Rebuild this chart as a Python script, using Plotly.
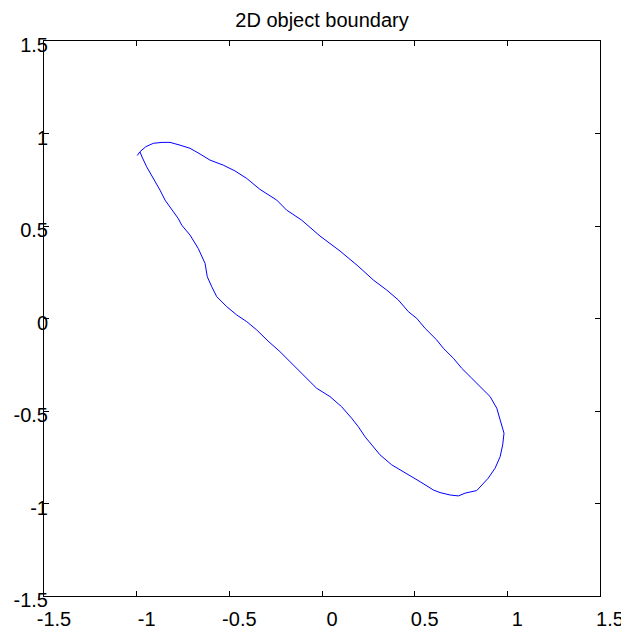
import plotly.graph_objects as go

# Boundary trace (data coordinates)
boundary_x = [-0.997, -0.982, -0.950, -0.910, -0.863, -0.820, -0.766, -0.712, -0.658, -0.604,
              -0.533, -0.470, -0.406, -0.335, -0.244, -0.191, -0.110, -0.011, 0.097, 0.194,
              0.277, 0.349, 0.412, 0.466, 0.511, 0.556, 0.619, 0.655, 0.709, 0.754,
              0.808, 0.862, 0.907, 0.943, 0.961, 0.982, 0.975, 0.961, 0.934, 0.897,
              0.835, 0.772, 0.736, 0.691, 0.637, 0.601, 0.529, 0.466, 0.421, 0.376,
              0.313, 0.268, 0.232, 0.196, 0.160, 0.106, 0.043, -0.029, -0.101, -0.155,
              -0.227, -0.291, -0.352, -0.406, -0.460, -0.514, -0.568, -0.595, -0.619, -0.631,
              -0.668, -0.712, -0.757, -0.776, -0.820, -0.847, -0.874, -0.910, -0.946, -0.971,
              -0.982]
boundary_y = [0.881, 0.902, 0.929, 0.947, 0.952, 0.952, 0.937, 0.920, 0.889, 0.856,
              0.829, 0.798, 0.757, 0.698, 0.640, 0.586, 0.532, 0.446, 0.365, 0.284,
              0.208, 0.154, 0.100, 0.037, 0.001, -0.053, -0.116, -0.161, -0.215, -0.269,
              -0.323, -0.377, -0.422, -0.485, -0.548, -0.620, -0.683, -0.747, -0.809, -0.863,
              -0.930, -0.944, -0.959, -0.954, -0.941, -0.927, -0.882, -0.845, -0.818, -0.791,
              -0.737, -0.683, -0.639, -0.585, -0.539, -0.477, -0.422, -0.377, -0.305, -0.251,
              -0.179, -0.122, -0.062, -0.017, 0.019, 0.064, 0.118, 0.172, 0.226, 0.298,
              0.379, 0.451, 0.505, 0.541, 0.604, 0.640, 0.694, 0.757, 0.820, 0.873,
              0.900]

tick_vals = [-1.5, -1, -0.5, 0, 0.5, 1, 1.5]
tick_text = ["-1.5", "-1", "-0.5", "0", "0.5", "1", "1.5"]
title_text = "2D object boundary"

FONT = "Arial, Liberation Sans, sans-serif"

fig = go.Figure(
    go.Scatter(x=boundary_x, y=boundary_y, mode="lines",
               line=dict(color="#0000ff", width=1), showlegend=False,
               hoverinfo="skip")
)

common_axis = dict(
    range=[-1.5, 1.5], tickmode="array", tickvals=tick_vals, ticktext=tick_text,
    showgrid=False, zeroline=False, showline=True, linecolor="black", linewidth=1,
    mirror="all", ticks="inside", ticklen=5, tickcolor="black", tickwidth=1,
    tickfont=dict(family=FONT, size=20, color="black"), automargin=False,
)

# page body has an 8px margin, so the figure is sized to fit the window
fig.update_layout(
    width=621, height=622,
    margin=dict(l=36, r=29, t=33, b=34),
    paper_bgcolor="white", plot_bgcolor="white",
    font=dict(family=FONT, color="black"),
    title=dict(text=title_text, x=0.5, xref="paper", xanchor="center",
               y=1 - 12 / 622, yref="container", yanchor="middle",
               font=dict(family=FONT, size=20, color="black")),
    xaxis=dict(**common_axis, ticklabelshift=10, ticklabelstandoff=5),
    yaxis=dict(**common_axis, ticklabelstandoff=-9, ticklabelshift=4),
)

fig.write_html("out.html")
